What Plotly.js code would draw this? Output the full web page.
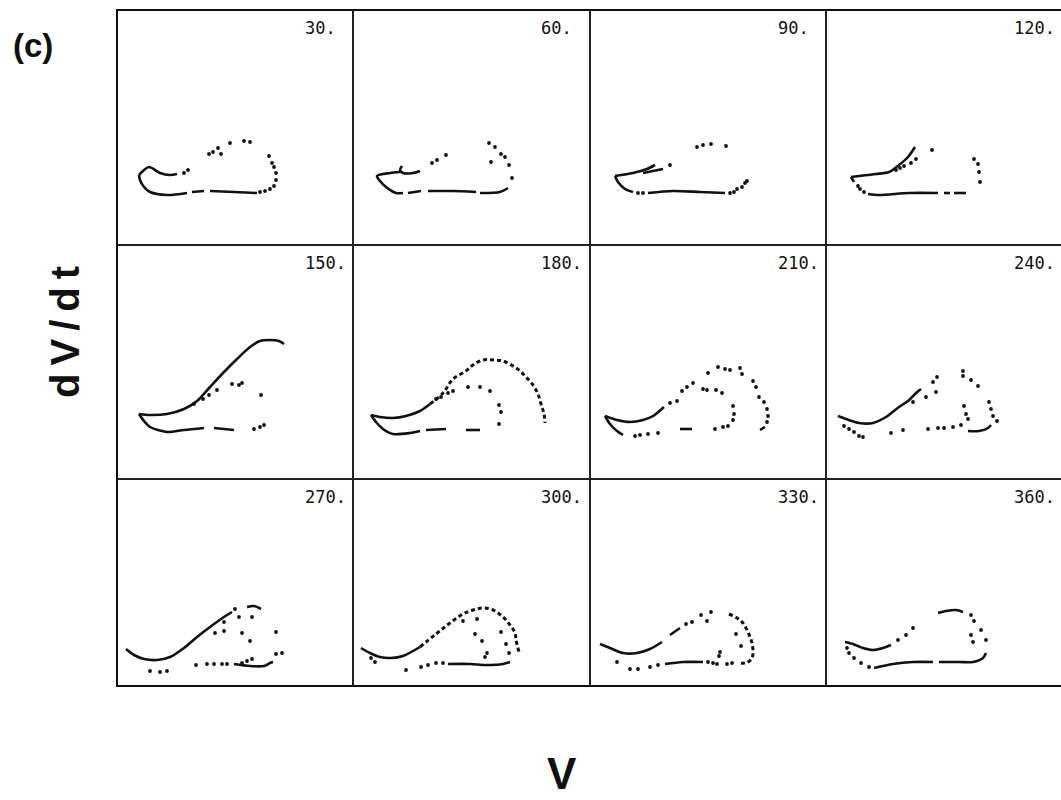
<!DOCTYPE html>
<html>
<head>
<meta charset="utf-8">
<script src="https://cdn.plot.ly/plotly-3.0.1.min.js"></script>
<style>html,body{margin:0;padding:0;background:#fff;}#chart{width:1061px;height:800px;}</style>
</head>
<body>
<div id="chart"></div>
<script>
// Phase labels of the 12 panels (degrees)
const phases = ["30.", "60.", "90.", "120.", "150.", "180.", "210.", "240.", "270.", "300.", "330.", "360."];

// Each panel: V (x) and dV/dt (y), arbitrary units.
// "line" = continuous traced segments (null separates), "dash" = densely dotted arcs, "dot" = isolated points.
const lineV_030 = [22,32,43,53,60,null,22,23,27,33,50,70,null,75,87,null,93,117,140];
const lineD_030 = [70,78,72,70,71,null,70,65,58,53,50,52,null,53,54,null,54,53,52];
const dotV_030 = [143,148,153,157,159,159,157,155,152,67,71,92,96,101,104,113,127,133];
const dotD_030 = [53,54,56,59,65,72,78,82,89,72,75,91,93,97,91,102,104,103];

const lineV_060 = [67,60,50,47,49,null,47,37,24,27,33,43,50,null,55,68,null,75,100,123,null,127,147,155];
const lineD_060 = [74,72,72,75,79,null,73,72,69,64,58,52,52,null,52,54,null,54,54,53,null,52,53,57];
const dotV_060 = [159,156,152,148,142,136,138,93,84,79];
const dotD_060 = [67,80,88,91,98,102,83,90,85,82];

const lineV_090 = [25,43,57,65,null,53,63,73,null,25,28,35,43,null,58,83,110,135];
const lineD_090 = [69,72,76,80,null,72,74,76,null,69,63,56,53,null,52,54,53,52];
const dotV_090 = [48,53,140,144,147,152,155,157,80,107,113,121,136];
const dotD_090 = [52,52,52,53,56,58,62,64,80,98,100,101,99];

const lineV_120 = [25,33,50,63,73,82,89,null,25,28,null,42,53,83,112,null,118,124,null,128,140];
const lineD_120 = [68,69,71,73,80,88,98,null,68,63,null,51,50,52,52,null,52,52,null,52,52];
const dotV_120 = [32,34,38,70,74,78,85,90,106,148,152,153,154];
const dotD_120 = [59,56,53,75,77,79,82,86,95,86,81,73,63];

const lineV_150 = [22,33,50,67,80,93,107,120,133,143,153,162,167,null,22,27,33,50,67,87,null,97,117];
const lineD_150 = [65,64,65,70,78,92,107,120,132,138,139,138,135,null,65,58,52,47,49,51,null,51,49];
const dotV_150 = [137,143,147,77,86,92,100,115,122,125,144];
const dotD_150 = [50,52,54,75,80,84,89,95,94,96,84];

const lineV_180 = [18,27,40,53,67,77,null,18,23,30,40,57,67,null,73,93,null,113,127];
const lineD_180 = [64,62,61,63,68,75,null,64,57,50,45,46,48,null,49,50,null,49,49];
const dashV_180 = [77,90,100,113,120,130,140,150,160,167,173,180,185,188,191,192];
const dashD_180 = [75,86,100,108,114,119,119,118,113,108,102,94,85,75,65,56];
const dotV_180 = [83,88,95,100,115,127,137,146,148,146];
const dotD_180 = [80,82,86,88,92,92,88,74,67,55];

const lineV_210 = [15,27,40,53,63,74,null,15,20,27,33,null,90,102,null,170,175];
const lineD_210 = [63,59,57,59,63,72,null,63,55,48,44,null,50,50,null,49,52];
const dotV_210 = [80,87,92,97,103,118,128,135,140,150,152,163,166,169,174,177,178,177,45,50,58,68,125,133,138,143,144,143,113,117,126,132];
const dotD_210 = [76,78,88,92,96,106,112,110,109,111,105,98,92,82,77,70,63,57,43,44,45,46,50,52,53,59,65,73,90,89,89,86];

const lineV_240 = [12,20,33,47,60,73,82,90,95,null,142,153,162,165];
const lineD_240 = [63,60,56,56,62,72,78,86,90,null,48,48,51,54];
const dotV_240 = [87,100,110,111,107,137,137,145,152,18,23,28,33,37,65,77,102,112,118,127,135,138,140,142,163,165,167,171];
const dotD_240 = [77,82,87,102,97,108,103,99,93,53,50,47,43,42,46,49,50,51,51,52,54,73,65,60,77,70,63,58];

const lineV_270 = [9,17,27,40,53,67,80,93,107,115,null,130,137,144,null,117,133,147,153,156];
const lineD_270 = [37,31,27,26,29,38,49,59,69,74,null,79,80,77,null,22,20,20,23,24];
const dotV_270 = [118,107,98,107,122,135,125,133,159,33,43,50,79,90,97,105,110,125,130,135,159,165];
const dotD_270 = [77,64,53,55,69,69,53,45,54,15,14,15,21,22,22,22,22,23,25,27,32,33];

const lineV_300 = [8,17,27,38,50,67,null,95,117,133,150,157];
const lineD_300 = [38,33,29,28,30,39,null,22,22,21,22,24];
const dashV_300 = [67,83,97,110,120,130,140,150,157,162,163,166];
const dashD_300 = [39,52,63,72,76,78,76,69,61,53,46,34];
const dotV_300 = [18,22,53,68,75,83,90,110,124,122,129,134,132,148,153,156];
const dotD_300 = [28,24,16,19,21,23,23,65,67,52,45,33,29,54,42,33];

const lineV_330 = [10,20,33,47,60,72,null,80,90,null,75,93,113];
const lineD_330 = [42,38,33,33,37,44,null,51,58,null,22,24,24];
const dashV_330 = [139,147,153,157,160,162,163,162,158,155,148];
const dashD_330 = [72,68,63,56,49,43,34,28,24,23,23];
const dotV_330 = [96,102,111,121,117,146,151,130,129,27,40,48,60,68,118,123,127,137,142];
const dotD_330 = [62,64,71,74,65,52,40,34,30,24,17,17,19,21,24,23,22,22,23];

const lineV_360 = [19,27,37,47,57,65,null,112,120,130,137,null,48,67,87,107,null,113,133,147,157,160];
const lineD_360 = [44,42,38,36,38,41,null,73,75,76,74,null,18,22,24,24,null,24,24,24,28,33];
const dotV_360 = [72,80,87,145,148,155,160,147,145,21,23,28,35,43];
const dotD_360 = [46,51,58,71,65,56,46,44,51,38,33,28,23,19];

const panels = [
  {line:[lineV_030,lineD_030], dash:[[],[]], dot:[dotV_030,dotD_030]},
  {line:[lineV_060,lineD_060], dash:[[],[]], dot:[dotV_060,dotD_060]},
  {line:[lineV_090,lineD_090], dash:[[],[]], dot:[dotV_090,dotD_090]},
  {line:[lineV_120,lineD_120], dash:[[],[]], dot:[dotV_120,dotD_120]},
  {line:[lineV_150,lineD_150], dash:[[],[]], dot:[dotV_150,dotD_150]},
  {line:[lineV_180,lineD_180], dash:[dashV_180,dashD_180], dot:[dotV_180,dotD_180]},
  {line:[lineV_210,lineD_210], dash:[[],[]], dot:[dotV_210,dotD_210]},
  {line:[lineV_240,lineD_240], dash:[[],[]], dot:[dotV_240,dotD_240]},
  {line:[lineV_270,lineD_270], dash:[[],[]], dot:[dotV_270,dotD_270]},
  {line:[lineV_300,lineD_300], dash:[dashV_300,dashD_300], dot:[dotV_300,dotD_300]},
  {line:[lineV_330,lineD_330], dash:[dashV_330,dashD_330], dot:[dotV_330,dotD_330]},
  {line:[lineV_360,lineD_360], dash:[[],[]], dot:[dotV_360,dotD_360]}
];

const W = 1061, H = 800;
const colEdges = [117, 353, 590, 826, 1061];
const rowEdges = [10, 245, 479, 686];
const rowRange = [235, 234, 207];

const traces = [];
const layout = {
  width: W, height: H,
  margin: {l:0, r:0, t:0, b:0},
  paper_bgcolor: '#fff', plot_bgcolor: '#fff',
  showlegend: false,
  annotations: [], shapes: []
};

panels.forEach((p, i) => {
  const r = Math.floor(i / 4), c = i % 4;
  const n = i === 0 ? '' : String(i + 1);
  const xa = 'x' + n, ya = 'y' + n;
  traces.push({x: p.line[0], y: p.line[1], xaxis: xa, yaxis: ya, type: 'scatter', mode: 'lines',
    line: {color: '#111', width: 2.6, shape: 'spline', smoothing: 0.8}, connectgaps: false, hoverinfo: 'skip'});
  if (p.dash[0].length) traces.push({x: p.dash[0], y: p.dash[1], xaxis: xa, yaxis: ya, type: 'scatter', mode: 'lines',
    line: {color: '#111', width: 3, shape: 'spline', dash: '4px,3px'}, hoverinfo: 'skip'});
  traces.push({x: p.dot[0], y: p.dot[1], xaxis: xa, yaxis: ya, type: 'scatter', mode: 'markers',
    marker: {color: '#111', size: 3.8}, hoverinfo: 'skip'});
  const ax = {showticklabels: false, ticks: '', showgrid: false, zeroline: false,
    showline: true, mirror: true, linecolor: '#222', linewidth: 1.3, fixedrange: true};
  layout['xaxis' + n] = Object.assign({}, ax, {anchor: ya, range: [0, colEdges[c+1] - colEdges[c]],
    domain: [colEdges[c] / W, colEdges[c+1] / W]});
  layout['yaxis' + n] = Object.assign({}, ax, {anchor: xa, range: [0, rowRange[r]],
    domain: [1 - rowEdges[r+1] / H, 1 - rowEdges[r] / H]});
  layout.annotations.push({text: phases[i], xref: xa + ' domain', yref: ya + ' domain',
    x: 186 / (colEdges[c+1] - colEdges[c]), y: 1, xanchor: 'left', yanchor: 'top', yshift: -6,
    showarrow: false, font: {family: 'DejaVu Sans Mono', size: 17, color: '#111'}});
});

// outer frame
layout.shapes.push({type: 'rect', xref: 'paper', yref: 'paper', x0: 117 / W, x1: 1.01,
  y0: 1 - 686 / H, y1: 1 - 10 / H, line: {color: '#111', width: 2}});

layout.annotations.push(
  {text: '<b>(c)</b>', xref: 'paper', yref: 'paper', x: 33 / W, y: 1 - 45 / H,
   xanchor: 'center', yanchor: 'middle', showarrow: false,
   font: {family: 'Liberation Sans', size: 33, color: '#111'}},
  {text: '<b>d\u2009V\u2009/\u2009d\u2009t</b>', xref: 'paper', yref: 'paper', x: 65 / W, y: 1 - 332 / H,
   xanchor: 'center', yanchor: 'middle', textangle: -90, showarrow: false,
   font: {family: 'Liberation Sans', size: 40, color: '#111'}},
  {text: '<b>V</b>', xref: 'paper', yref: 'paper', x: 562 / W, y: 1 - 773 / H,
   xanchor: 'center', yanchor: 'middle', showarrow: false,
   font: {family: 'Liberation Sans', size: 44, color: '#111'}}
);

Plotly.newPlot('chart', traces, layout, {staticPlot: true, displayModeBar: false});
</script>
</body>
</html>
